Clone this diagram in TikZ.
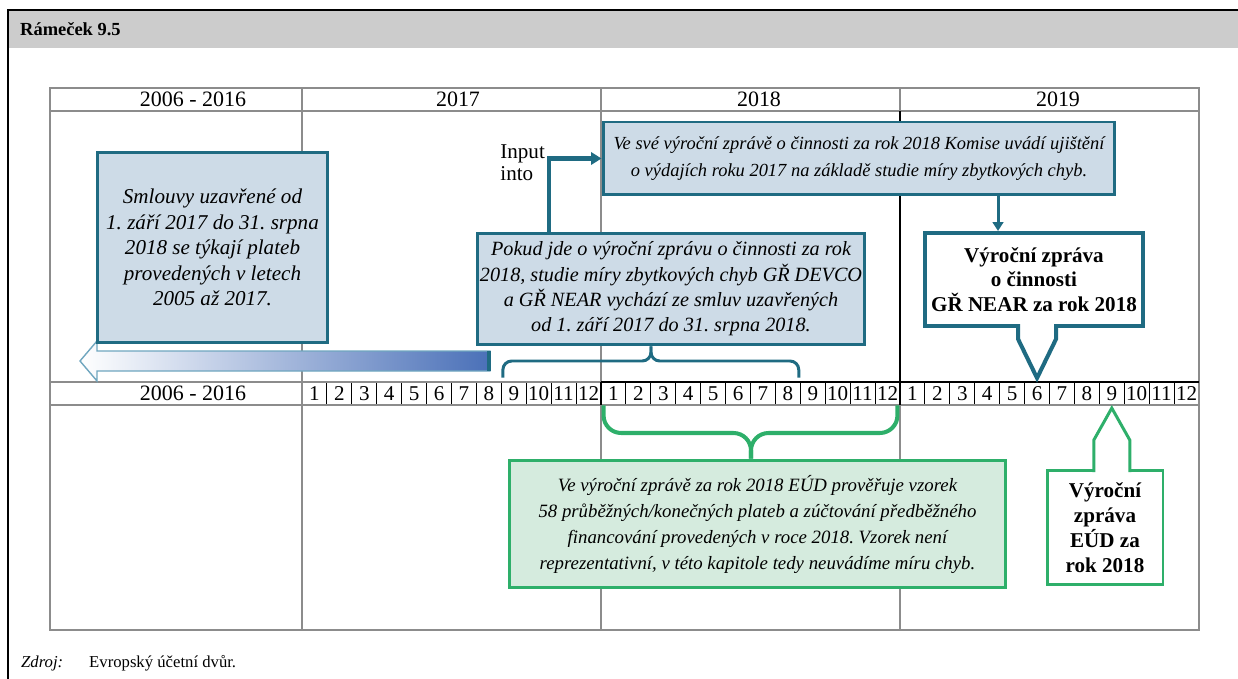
\documentclass[tikz,border=0pt]{standalone}
\usepackage{fontspec}
\setmainfont{Liberation Serif}
\usepackage{xcolor}
\usepackage{tikz}
\usetikzlibrary{arrows.meta, positioning}
\frenchspacing

\definecolor{boxteal}{HTML}{1F6B82}
\definecolor{boxblue}{HTML}{CDDBE7}
\definecolor{eudgreen}{HTML}{2EAF6A}
\definecolor{eudfill}{HTML}{D5EBDE}
\definecolor{tablegrey}{HTML}{8C8C8C}
\definecolor{headgrey}{HTML}{CCCCCC}
\definecolor{arrowblue}{HTML}{4A70B8}
\definecolor{arrowedge}{HTML}{6FA6BF}

\begin{document}
\begin{tikzpicture}[x=0.02cm, y=-0.02cm,
    bluebox/.style={draw=boxteal, fill=boxblue, line width=1.7pt, align=center, inner sep=0pt},
    greenbox/.style={draw=eudgreen, fill=eudfill, line width=1.7pt, align=center, inner sep=0pt},
    reportbox/.style={fill=white, align=center, inner sep=0pt, font=\bfseries\fontsize{12}{14.2}\selectfont},
    month/.style={draw=black, line width=0.5pt, minimum width=0.4983cm, minimum height=0.46cm,
      inner sep=0pt, font=\fontsize{12}{12}\selectfont},
    yearlab/.style={font=\fontsize{12.5}{13}\selectfont},
    tableline/.style={draw=tablegrey, line width=1.2pt},
    tealline/.style={draw=boxteal, line width=1.7pt},
    greenline/.style={draw=eudgreen, line width=2.3pt}
  ]
    \useasboundingbox (0,0) rectangle (1238,679);

    % Frame and heading
    \fill[headgrey] (8,10) rectangle (1238,48);
    \draw[black, line width=1.5pt] (1238,10) -- (8,10) -- (8,679);
    \node[anchor=west, font=\bfseries\fontsize{10.5}{12}\selectfont] (title) at (14,29) {Rámeček 9.5};

    % Month cells
    \foreach \yr/\xo in {17/302, 18/601, 19/900}
      \foreach \m in {1,...,12}
        \node[month] (m\yr-\m) at ({\xo+(\m-0.5)*24.917},393.5) {\m};

    % Table grid
    \draw[tableline] (50,88) rectangle (1199,630);
    \draw[tableline] (50,111) -- (1199,111) (50,382) -- (1199,382) (50,405) -- (1199,405);
    \foreach \x in {302,601,900}
      \draw[tableline] (\x,88) -- (\x,630);
    \draw[black, line width=1.2pt] (601,382) -- (1199,382);
    \draw[black, line width=1.2pt] (900,111) -- (900,405) (601,382) -- (601,405);

    % Years
    \node[yearlab] (y06) at (193,99.5) {2006 - 2016};
    \node[yearlab] (y17) at (458,99.5) {2017};
    \node[yearlab] (y18) at (759,99.5) {2018};
    \node[yearlab] (y19) at (1058,99.5) {2019};
    \node[yearlab] (y06b) at (193,393.5) {2006 - 2016};

    % Older payments arrow
    \shade[left color=white, right color=arrowblue, draw=arrowedge, line width=0.8pt]
      (80,361) -- (97,341) -- (97,351) -- (490,351) -- (490,371) -- (97,371) -- (97,381) -- cycle;
    \draw[boxteal, line width=2.5pt] (489,351) -- (489,371);

    % Boxes
    \node[bluebox, font=\itshape\fontsize{12}{14.6}\selectfont, minimum width=4.62cm, minimum height=3.82cm]
      (smlouvy) at (212.5,247.5) {Smlouvy uzavřené od\\1. září 2017 do 31. srpna\\2018 se týkají plateb\\provedených v letech\\2005 až 2017.};
    \node[bluebox, font=\itshape\fontsize{11.5}{14.4}\selectfont, minimum width=7.76cm, minimum height=2.24cm]
      (pokud) at (671,289) {Pokud jde o výroční zprávu o činnosti za rok\\2018, studie míry zbytkových chyb GŘ DEVCO\\a GŘ NEAR vychází ze smluv uzavřených\\od 1. září 2017 do 31. srpna 2018.};
    \node[bluebox, font=\itshape\fontsize{10.5}{15.4}\selectfont, minimum width=10.24cm, minimum height=1.46cm]
      (vesve) at (859,158.5) {Ve své výroční zprávě o činnosti za rok 2018 Komise uvádí ujištění\\o výdajích roku 2017 na základě studie míry zbytkových chyb.};
    \node[reportbox, draw=boxteal, line width=2.3pt, minimum width=4.36cm, minimum height=1.86cm, font=\bfseries\fontsize{12}{14}\selectfont]
      (near) at (1034,279.5) {Výroční zpráva\\o činnosti\\GŘ NEAR za rok 2018};
    \node[greenbox, font=\itshape\fontsize{10.7}{14.8}\selectfont, minimum width=9.94cm, minimum height=2.56cm]
      (eudtext) at (757.5,524) {Ve výroční zprávě za rok 2018 EÚD prověřuje vzorek\\58 průběžných/konečných plateb a zúčtování předběžného\\financování provedených v roce 2018. Vzorek není\\reprezentativní, v této kapitole tedy neuvádíme míru chyb.};
    \node[reportbox, draw=eudgreen, line width=1.7pt, minimum width=2.32cm, minimum height=2.3cm]
      (eud) at (1105,527.5) {Výroční\\zpráva\\EÚD za\\rok 2018};

    % Input into
    \coordinate (inp) at (549,0);
    \draw[tealline, line width=2.3pt, -{Triangle[length=6pt, width=7pt]}] (pokud.north -| inp) |- (vesve.west);
    \node[anchor=east, align=left, inner sep=1pt, font=\fontsize{12}{12.5}\selectfont] (inputlab) at (547,163) {Input\\into};

    % Commission report -> NEAR report
    \coordinate (feed) at (998,0);
    \draw[tealline, -{Triangle[length=5pt, width=6pt]}] (vesve.south -| feed) -- (near.north -| feed);

    % Brace over the contract period
    \coordinate (tealmid) at (651,361);
    \draw[tealline, rounded corners=5pt] (m17-9.north west) ++(2,-4) |- (tealmid) -- (pokud.south -| tealmid);
    \draw[tealline, rounded corners=5pt] (m18-8.north east) ++(-2,-4) |- (tealmid) -- (pokud.south -| tealmid);

    % Brace under 2018
    \coordinate (greenmid) at (751,433);
    \draw[greenline, rounded corners=10pt] (m18-1.south west) ++(3,0) |- (greenmid) -- (eudtext.north -| greenmid);
    \draw[greenline, rounded corners=10pt] (m18-12.south east) ++(-3,0) |- (greenmid) -- (eudtext.north -| greenmid);

    % Pointer of the NEAR report
    \coordinate (nearTip) at ([yshift=2pt]m19-6.north);
    \fill[white] (nearTip) -- ++(-19,-39) -- ++(0,-15) -- ++(38,0) -- ++(0,15) -- cycle;
    \draw[boxteal, line width=2.3pt] (nearTip) ++(-19,-54) -- ++(0,15) -- (nearTip) -- ++(19,-39) -- ++(0,-15);

    % Pointer of the EUD report
    \coordinate (eudTip) at ([yshift=-1.5pt]m19-9.south);
    \fill[white] (eudTip) -- ++(-18,32) -- ++(0,32) -- ++(36,0) -- ++(0,-32) -- cycle;
    \draw[eudgreen, line width=1.7pt] (eudTip) ++(-18,64) -- ++(0,-32) -- (eudTip) -- ++(18,32) -- ++(0,32);

    % Source
    \node[anchor=west, font=\itshape\fontsize{9.5}{11}\selectfont] (zdroj) at (15,663) {Zdroj:};
    \node[anchor=west, font=\fontsize{9.5}{11}\selectfont] (zdrojtext) at (83,663) {Evropský účetní dvůr.};
\end{tikzpicture}
\end{document}
